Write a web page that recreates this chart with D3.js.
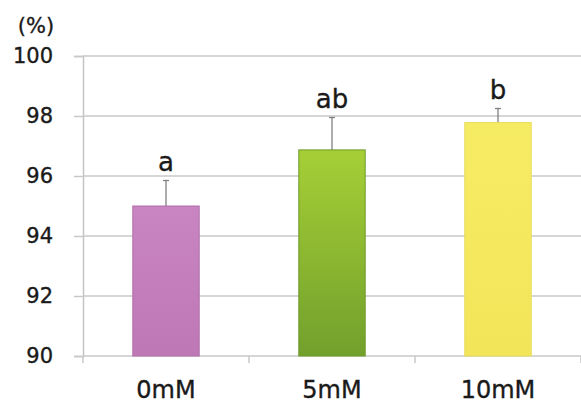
<!DOCTYPE html>
<html>
<head>
<meta charset="utf-8">
<script src="https://cdn.jsdelivr.net/npm/d3@7"></script>
<style>
  body { margin: 0; background: #fff; }
  text { font-family: "DejaVu Sans", Verdana, sans-serif; fill: #1a1a1a; stroke: #1a1a1a; stroke-width: 0.35px; }
</style>
</head>
<body>
<div id="chart"></div>
<script>
// chart data
const categories = ['0mM', '5mM', '10mM'];
const values = [95.0, 96.87, 97.78];
const errors = [0.85, 1.08, 0.47];
const letters = ['a', 'ab', 'b'];
const yTicks = [90, 92, 94, 96, 98, 100];

const width = 581, height = 403;
const margin = { top: 56, right: 0, bottom: 46, left: 83 };

const svg = d3.select('#chart').append('svg')
  .attr('width', width)
  .attr('height', height);

// bar gradients (top colour, bottom colour)
const fills = [
  ['#c985c1', '#bd78b5'],
  ['#a6cf36', '#72a02c'],
  ['#f6ec64', '#f3e55a']
];
const defs = svg.append('defs');
fills.forEach((f, i) => {
  const g = defs.append('linearGradient')
    .attr('id', 'grad' + i)
    .attr('x1', 0).attr('y1', 0).attr('x2', 0).attr('y2', 1);
  g.append('stop').attr('offset', '0%').attr('stop-color', f[0]);
  g.append('stop').attr('offset', '100%').attr('stop-color', f[1]);
});

const x = d3.scaleBand()
  .domain(categories)
  .range([margin.left, width - margin.right])
  .paddingInner(0.6)
  .paddingOuter(0.3);

const y = d3.scaleLinear()
  .domain([90, 100])
  .range([height - margin.bottom - 1, margin.top]);

// gridlines + y labels
const yAxis = svg.append('g')
  .attr('transform', `translate(${margin.left},0)`)
  .call(d3.axisLeft(y)
    .tickValues(yTicks)
    .tickSize(9)
    .tickPadding(21));
yAxis.select('.domain').attr('stroke', '#c4c4c4').attr('stroke-width', 1.5);
yAxis.selectAll('.tick line').attr('stroke', '#c8c8c8').attr('stroke-width', 1.5);
yAxis.selectAll('.tick text')
  .style('font-size', '21px')
  .attr('fill', '#1a1a1a');

svg.append('g')
  .selectAll('line')
  .data(yTicks)
  .join('line')
  .attr('x1', margin.left)
  .attr('x2', width)
  .attr('y1', d => y(d))
  .attr('y2', d => y(d))
  .attr('stroke', '#c8c8c8')
  .attr('stroke-width', 1.5);

// x axis
const xAxis = svg.append('g')
  .attr('transform', `translate(0,${y(90)})`)
  .call(d3.axisBottom(x).tickSize(0).tickPadding(25));
xAxis.select('.domain').remove();
xAxis.selectAll('.tick text')
  .style('font-size', '24px')
  .attr('fill', '#1a1a1a');

// category separator ticks
const step = x.step();
svg.append('g')
  .selectAll('line')
  .data(d3.range(categories.length + 1))
  .join('line')
  .attr('x1', i => margin.left + i * step)
  .attr('x2', i => margin.left + i * step)
  .attr('y1', y(90))
  .attr('y2', y(90) + 7)
  .attr('stroke', '#c8c8c8')
  .attr('stroke-width', 1.5);

// error bars (drawn first so the bar hides the lower half)
const err = svg.append('g');
categories.forEach((c, i) => {
  const cx = x(c) + x.bandwidth() / 2;
  err.append('line')
    .attr('x1', cx).attr('x2', cx)
    .attr('y1', y(values[i])).attr('y2', y(values[i] + errors[i]))
    .attr('stroke', '#808080').attr('stroke-width', 1.3);
  err.append('line')
    .attr('x1', cx - 3).attr('x2', cx + 3)
    .attr('y1', y(values[i] + errors[i])).attr('y2', y(values[i] + errors[i]))
    .attr('stroke', '#808080').attr('stroke-width', 1.3);
});

// bars
svg.append('g')
  .selectAll('rect')
  .data(values)
  .join('rect')
  .attr('x', (d, i) => x(categories[i]))
  .attr('width', x.bandwidth())
  .attr('y', d => y(d))
  .attr('height', d => y(90) - y(d))
  .attr('fill', (d, i) => `url(#grad${i})`)
  .attr('stroke', (d, i) => ['#b070a8', '#6f9a2c', '#e8dc58'][i])
  .attr('stroke-width', 1);

// significance letters
svg.append('g')
  .selectAll('text')
  .data(letters)
  .join('text')
  .attr('x', (d, i) => x(categories[i]) + x.bandwidth() / 2)
  .attr('y', (d, i) => y(values[i] + errors[i]) - 10)
  .attr('text-anchor', 'middle')
  .style('font-size', '26px')
  .text(d => d);

// unit label
svg.append('text')
  .attr('x', 36)
  .attr('y', 33)
  .attr('text-anchor', 'middle')
  .style('font-size', '21px')
  .text('(%)');
</script>
</body>
</html>
